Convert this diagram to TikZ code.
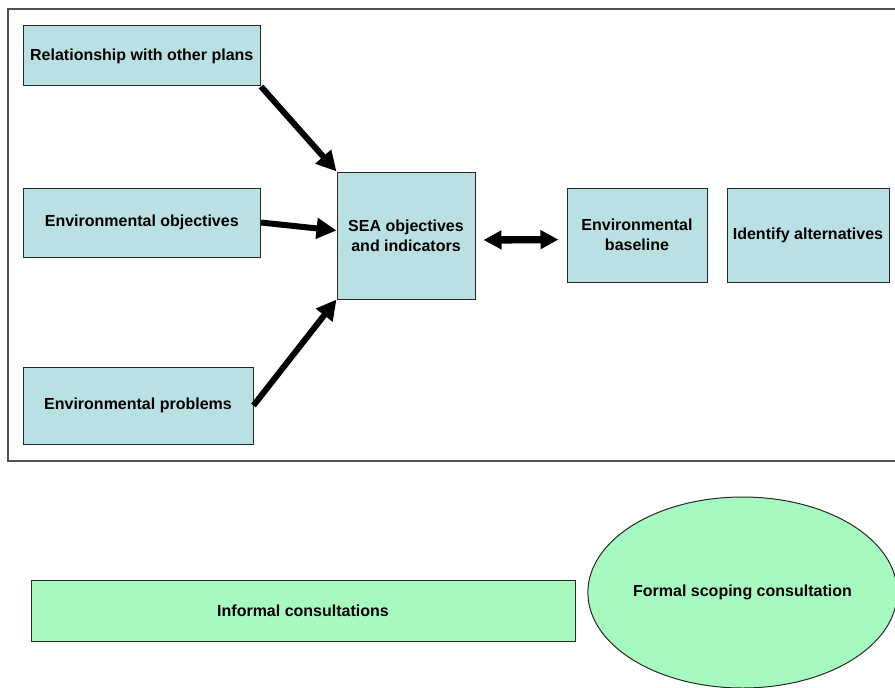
\documentclass[tikz,border=0pt]{standalone}
\usepackage{fontspec}
\setmainfont{Liberation Sans}
\usetikzlibrary{arrows.meta,shapes.geometric}
\definecolor{boxblue}{RGB}{185,224,227}
\definecolor{boxgreen}{RGB}{166,249,191}
\definecolor{edgegray}{RGB}{40,40,40}
\definecolor{framegray}{RGB}{80,80,80}
\tikzset{
  label text/.style={font=\fontsize{12pt}{15pt}\selectfont\bfseries, align=center, inner sep=0pt},
  bluebox/.style={label text, rectangle, draw=edgegray, line width=0.75pt, fill=boxblue},
  greenbox/.style={label text, rectangle, draw=edgegray, line width=0.75pt, fill=boxgreen},
  greenoval/.style={label text, ellipse, draw=edgegray, line width=0.75pt, fill=boxgreen},
  feed/.style={line width=4.5pt, -{Triangle[length=15pt,width=15pt]}},
  link/.style={line width=5.5pt, {Triangle[length=13.5pt,width=13.5pt]}-{Triangle[length=13.5pt,width=13.5pt]}}
}
\begin{document}
\begin{tikzpicture}[x=0.75pt,y=-0.75pt]
\useasboundingbox (0,0) rectangle (895,688);
\fill[white] (0,0) rectangle (895,688);

% scoping frame
\draw[framegray, line width=1.2pt] (8,9) rectangle (905,461);

% input boxes
\node[bluebox, minimum width=178.1pt, minimum height=45pt] (rel) at (141.75,56) {Relationship with other plans};
\node[bluebox, minimum width=178.1pt, minimum height=51.75pt] (obj) at (141.75,222.5) {Environmental objectives};
\node[bluebox, minimum width=172.5pt, minimum height=57.75pt] (prob) at (138,405.5) {Environmental problems};

% central and right boxes
\node[bluebox, minimum width=103.5pt, minimum height=95.25pt] (sea) at (406,235.5) {SEA objectives\\and indicators};
\node[bluebox, minimum width=105pt, minimum height=70.5pt] (base) at (637,235) {Environmental\\baseline};
\node[bluebox, minimum width=121.5pt, minimum height=70.5pt] (alt) at (808,235) {Identify alternatives};

% consultations
\node[greenbox, minimum width=408pt, minimum height=45.75pt] (inf) at (303,610.5) {Informal consultations};
\node[greenoval, minimum width=230.25pt, minimum height=143.25pt] (formal) at (742.5,592.5) {Formal scoping consultation};

% connectors
\draw[feed] (rel.south east) -- (sea.north west);
\draw[feed] (obj.east) -- ([yshift=3.75pt]sea.west);
\draw[feed] (prob.east) -- (sea.south west);
\draw[link, shorten <=6pt, shorten >=6pt] ([yshift=-3.4pt]sea.east) -- ([yshift=-3.4pt]base.west);
\end{tikzpicture}
\end{document}
